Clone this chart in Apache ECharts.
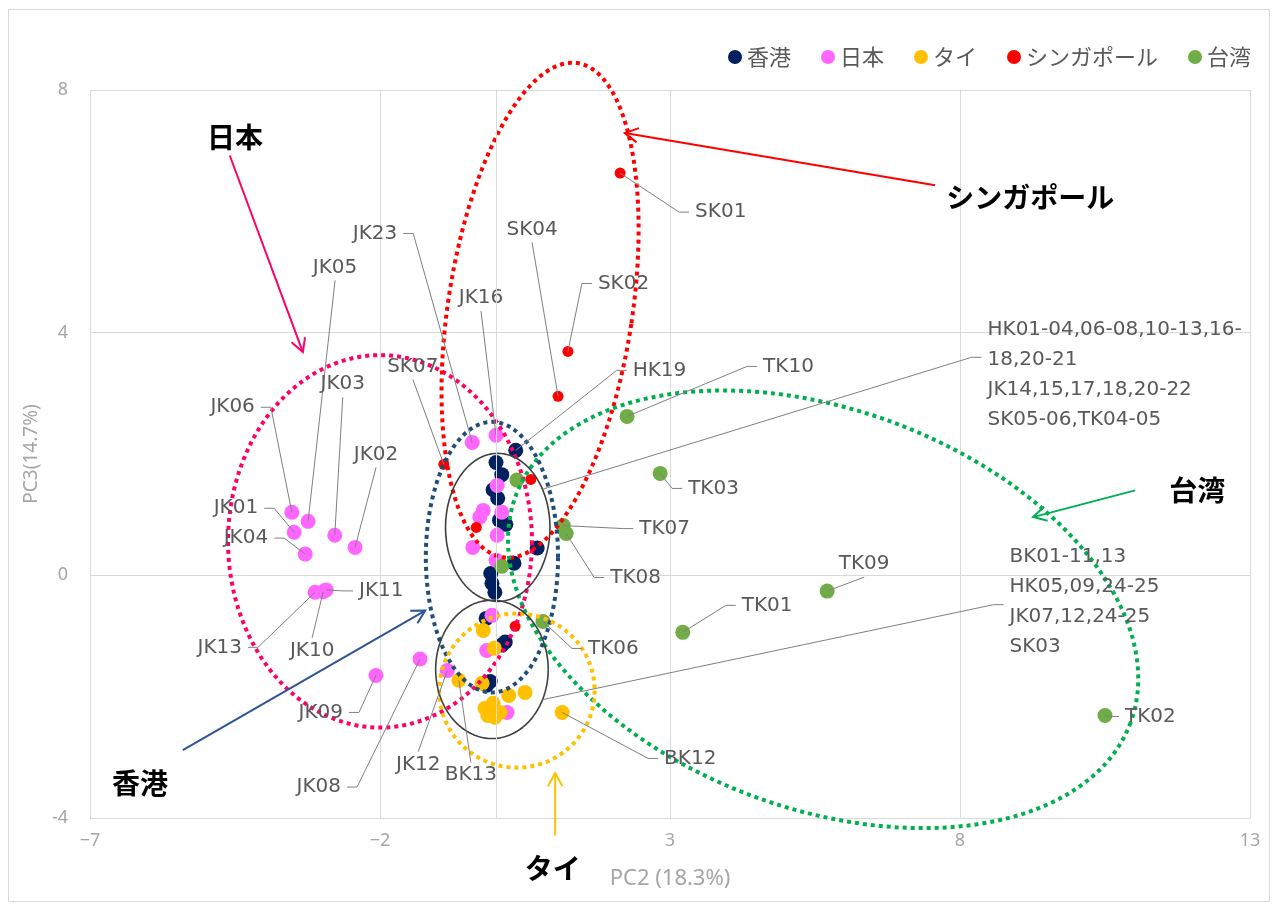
<!DOCTYPE html>
<html>
<head>
<meta charset="utf-8">
<script src="https://cdn.jsdelivr.net/npm/echarts@6/dist/echarts.min.js"></script>
<style>
  html, body { margin: 0; padding: 0; background: #ffffff; }
  #chart { width: 1278px; height: 909px; }
</style>
</head>
<body>
<div id="chart"></div>
<script>
// PCA scores per sample: [sample id, PC2, PC3]; unlabeled samples have an empty id
const hongKong = [
  ['HK19', 0.34, 2.06], ['', 0.00, 1.86], ['', 0.10, 1.66], ['', -0.05, 1.41],
  ['', 0.03, 1.27], ['', 0.06, 0.91], ['', 0.17, 0.84], ['', 0.71, 0.45],
  ['', 0.31, 0.20], ['', -0.09, 0.03], ['', -0.07, -0.13], ['', -0.02, -0.28],
  ['', -0.17, -0.71], ['', 0.16, -1.10], ['', 0.10, -1.15], ['', -0.16, -1.81],
  ['', -0.10, -1.75]
];
const japan = [
  ['JK06', -3.52, 1.04], ['JK05', -3.24, 0.89], ['JK01', -3.48, 0.71], ['JK03', -2.78, 0.66],
  ['JK02', -2.43, 0.46], ['JK04', -3.29, 0.35], ['JK13', -3.12, -0.28], ['JK10', -2.98, -0.27],
  ['JK11', -2.93, -0.24], ['JK09', -2.07, -1.65], ['JK08', -1.31, -1.38], ['JK12', -0.84, -1.57],
  ['JK23', -0.41, 2.19], ['JK16', 0.00, 2.31], ['', 0.02, 1.48], ['', -0.22, 1.07],
  ['', -0.28, 0.96], ['', 0.10, 1.04], ['', 0.02, 0.66], ['', -0.40, 0.46],
  ['', 0.00, 0.25], ['', -0.07, -0.66], ['', -0.16, -1.24], ['', 0.19, -2.26]
];
const thailand = [
  ['', -0.22, -0.91], ['', -0.03, -1.20], ['BK13', -0.64, -1.73], ['', -0.24, -1.78],
  ['', 0.22, -1.98], ['', 0.50, -1.93], ['', -0.19, -2.19], ['', -0.05, -2.11],
  ['', 0.07, -2.26], ['', -0.14, -2.31], ['', -0.02, -2.34], ['BK12', 1.14, -2.26]
];
const singapore = [
  ['SK01', 2.14, 6.63], ['SK02', 1.24, 3.69], ['SK04', 1.07, 2.95], ['SK07', -0.90, 1.83],
  ['', 0.60, 1.58], ['', -0.34, 0.79], ['', 0.33, -0.84]
];
const taiwan = [
  ['TK10', 2.26, 2.62], ['TK03', 2.83, 1.68], ['TK07', 1.16, 0.82], ['TK08', 1.21, 0.69],
  ['TK09', 5.71, -0.26], ['TK01', 3.22, -0.94], ['TK02', 10.50, -2.31], ['TK06', 0.81, -0.76],
  ['', 0.36, 1.57], ['', 0.10, 0.15]
];

const regionNames = ['香港', '日本', 'タイ', 'シンガポール', '台湾'];
const regionData = [hongKong, japan, thailand, singapore, taiwan];
const regionColors = ['#002060', '#FF66FF', '#FFC000', '#FF0000', '#70AD47'];
const regionSizes = [15, 15, 15, 11, 15];

// Group outlines: centre (PC2, PC3), semi-axes in axis units, clockwise tilt in degrees
const outlines = [
  { cx: -2.00, cy: 0.56, rx: 2.62, ry: 3.07, rot: 0, color: '#FF0066', dotted: true },
  { cx: 0.76, cy: 4.37, rx: 1.59, ry: 4.12, rot: 8.6, color: '#FF0000', dotted: true },
  { cx: 5.64, cy: -0.56, rx: 5.65, ry: 3.29, rot: 20.2, color: '#00B050', dotted: true },
  { cx: -0.07, cy: 0.30, rx: 1.14, ry: 2.23, rot: 0, color: '#1F4E79', dotted: true },
  { cx: 0.36, cy: -1.90, rx: 1.34, ry: 1.27, rot: 0, color: '#FFC000', dotted: true },
  { cx: 0.03, cy: 0.79, rx: 0.90, ry: 1.22, rot: 0, color: '#404040', dotted: false },
  { cx: -0.07, cy: -1.55, rx: 0.97, ry: 1.14, rot: 0, color: '#404040', dotted: false }
];

// Region call-outs: label position and arrow in axis units
const regionArrows = [
  { label: '日本', color: '#FF0066', at: [-4.50, 7.22], from: [-4.59, 6.92], to: [-3.33, 3.68] },
  { label: 'シンガポール', color: '#FF0000', at: [9.21, 6.23], from: [7.57, 6.43], to: [2.22, 7.29] },
  { label: '台湾', color: '#00B050', at: [12.09, 1.40], from: [11.02, 1.40], to: [9.26, 0.96] },
  { label: '香港', color: '#2F5597', at: [-6.14, -3.43], from: [-5.40, -2.88], to: [-1.22, -0.58] },
  { label: 'タイ', color: '#FFC000', at: [0.98, -4.83], from: [1.02, -4.29], to: [1.02, -3.26] }
];

// Sample label placement: pixel offset of the text anchor from the point, and the side the leader meets
const labelLayout = {
  SK01: [75, 39, 'left'], SK02: [30, -68, 'left'], SK04: [-26, -157, 'bottom'], SK07: [-31, -88, 'bottom'],
  JK23: [-75, -209, 'right'], JK16: [-15, -127, 'bottom'], HK19: [117, -80, 'left'],
  TK10: [136, -50, 'left'], TK03: [28, 15, 'left'], TK07: [76, 3, 'left'], TK08: [44, 44, 'left'],
  TK09: [37, -17, 'bottom'], TK01: [59, -27, 'left'], TK02: [20, 1, 'left'], TK06: [45, 27, 'left'],
  BK12: [102, 46, 'left'], BK13: [12, 85, 'top'], JK12: [-29, 84, 'top'], JK08: [-79, 128, 'right'],
  JK09: [-33, 37, 'right'], JK13: [-73, 55, 'right'], JK10: [-11, 49, 'top'], JK11: [33, 1, 'left'],
  JK04: [-37, -16, 'right'], JK01: [-36, -24, 'right'], JK06: [-37, -105, 'right'],
  JK05: [27, -244, 'bottom'], JK03: [8, -141, 'bottom'], JK02: [21, -83, 'bottom']
};

// Cluster notes attached to the two solid outlines (outline index, angle on the outline)
const clusterNotes = [
  { text: 'HK01-04,06-08,10-13,16-\n18,20-21\nJK14,15,17,18,20-22\nSK05-06,TK04-05',
    outline: 5, angle: -31, dx: 445, dy: -114, attachDy: -18 },
  { text: 'BK01-11,13\nHK05,09,24-25\nJK07,12,24-25\nSK03',
    outline: 6, angle: 26, dx: 467, dy: -98, attachDy: 3 }
];

const LABEL_FONT = 'DejaVu Sans';
const LABEL_COLOR = '#595959';
const LEADER_COLOR = '#808080';

function outlinePixels(api, o, angleDeg) {
  const c = api.coord([o.cx, o.cy]);
  const rx = api.size([o.rx, 0])[0];
  const ry = api.size([0, o.ry])[1];
  const th = o.rot * Math.PI / 180;
  const at = (t) => {
    const lx = rx * Math.cos(t), ly = ry * Math.sin(t);
    return [c[0] + lx * Math.cos(th) - ly * Math.sin(th), c[1] + lx * Math.sin(th) + ly * Math.cos(th)];
  };
  if (angleDeg !== undefined) return at(angleDeg * Math.PI / 180);
  const pts = [];
  for (let i = 0; i <= 180; i++) pts.push(at(i / 180 * Math.PI * 2));
  return pts;
}

// Sample call-out entries built from the labelled points
const calloutItems = [];
regionData.forEach((list) => {
  list.forEach(([id, x, y]) => {
    if (id && labelLayout[id]) calloutItems.push({ id, value: [x, y] });
  });
});

function leader(p, ax, ay, side) {
  if (side === 'left') return [p, [ax - 16, ay], [ax - 6, ay]];
  if (side === 'right') return [p, [ax + 16, ay], [ax + 6, ay]];
  if (side === 'bottom') return [p, [ax, ay + 3]];
  return [p, [ax, ay - 3]];
}

const textAlignFor = { left: ['left', 'middle'], right: ['right', 'middle'], bottom: ['center', 'bottom'], top: ['center', 'top'] };

const series = regionNames.map((name, i) => ({
  name,
  type: 'scatter',
  z: 2,
  symbol: 'circle',
  symbolSize: regionSizes[i],
  itemStyle: { color: regionColors[i], opacity: 1 },
  data: regionData[i].map(([id, x, y]) => ({ name: id, value: [x, y] }))
}));

// vertical axis line through PC2 = 0
series.push({
  name: 'axis-zero', type: 'scatter', z: 1, silent: true, data: [],
  markLine: {
    silent: true, symbol: 'none', label: { show: false },
    lineStyle: { color: '#d9d9d9', type: 'solid', width: 1 },
    data: [{ xAxis: 0 }]
  }
});

series.push({
  name: 'outlines', type: 'custom', z: 3, silent: true, clip: false,
  data: outlines.map(o => [o.cx, o.cy]),
  renderItem(params, api) {
    const o = outlines[params.dataIndex];
    return {
      type: 'polyline',
      shape: { points: outlinePixels(api, o) },
      style: o.dotted
        ? { stroke: o.color, lineWidth: 4, lineDash: [4, 4], fill: null }
        : { stroke: o.color, lineWidth: 1.6, fill: null }
    };
  }
});

series.push({
  name: 'sample-labels', type: 'custom', z: 4, silent: true, clip: false,
  data: calloutItems.map(c => c.value),
  renderItem(params, api) {
    const item = calloutItems[params.dataIndex];
    const [dx, dy, side] = labelLayout[item.id];
    const p = api.coord([api.value(0), api.value(1)]);
    const ax = p[0] + dx, ay = p[1] + dy;
    const [align, vAlign] = textAlignFor[side];
    return {
      type: 'group',
      children: [
        { type: 'polyline', shape: { points: leader(p, ax, ay, side) },
          style: { stroke: LEADER_COLOR, lineWidth: 1, fill: null } },
        { type: 'text', x: ax, y: ay,
          style: { text: item.id, fill: LABEL_COLOR, fontSize: 20, fontFamily: LABEL_FONT,
                   align, verticalAlign: vAlign } }
      ]
    };
  }
});

series.push({
  name: 'cluster-notes', type: 'custom', z: 4, silent: true, clip: false,
  data: clusterNotes.map(n => [outlines[n.outline].cx, outlines[n.outline].cy]),
  renderItem(params, api) {
    const n = clusterNotes[params.dataIndex];
    const p = outlinePixels(api, outlines[n.outline], n.angle);
    const ax = p[0] + n.dx, ay = p[1] + n.dy;
    const ly = ay + n.attachDy;
    return {
      type: 'group',
      children: [
        { type: 'polyline', shape: { points: [p, [ax - 16, ly], [ax - 6, ly]] },
          style: { stroke: LEADER_COLOR, lineWidth: 1, fill: null } },
        { type: 'text', x: ax, y: ay,
          style: { text: n.text, fill: LABEL_COLOR, fontSize: 20, fontFamily: LABEL_FONT,
                   lineHeight: 30, align: 'left', verticalAlign: 'middle' } }
      ]
    };
  }
});

series.push({
  name: 'region-arrows', type: 'custom', z: 4, silent: true, clip: false,
  data: regionArrows.map(a => a.from),
  renderItem(params, api) {
    const a = regionArrows[params.dataIndex];
    const s = api.coord(a.from), e = api.coord(a.to), t = api.coord(a.at);
    const ang = Math.atan2(e[1] - s[1], e[0] - s[0]);
    const L = 15, W = 0.5;
    const h1 = [e[0] - L * Math.cos(ang - W), e[1] - L * Math.sin(ang - W)];
    const h2 = [e[0] - L * Math.cos(ang + W), e[1] - L * Math.sin(ang + W)];
    return {
      type: 'group',
      children: [
        { type: 'line', shape: { x1: s[0], y1: s[1], x2: e[0], y2: e[1] },
          style: { stroke: a.color, lineWidth: 2 } },
        { type: 'polyline', shape: { points: [h1, e, h2] },
          style: { stroke: a.color, lineWidth: 2, fill: null } },
        { type: 'text', x: t[0], y: t[1],
          style: { text: a.label, fill: '#000000', fontSize: 28, fontWeight: 'bold',
                   fontFamily: 'Noto Sans CJK JP', align: 'center', verticalAlign: 'middle' } }
      ]
    };
  }
});

const chart = echarts.init(document.getElementById('chart'), null, { renderer: 'canvas' });
chart.setOption({
  animation: false,
  backgroundColor: '#ffffff',
  textStyle: { fontFamily: 'Noto Sans' },
  graphic: [{
    type: 'rect', silent: true, z: -1,
    shape: { x: 8.5, y: 9.5, width: 1261, height: 892 },
    style: { fill: null, stroke: '#d9d9d9', lineWidth: 1 }
  }],
  legend: {
    data: regionNames,
    right: 22, top: 41,
    icon: 'circle', itemWidth: 14, itemHeight: 14, itemGap: 30,
    textStyle: { fontSize: 22, color: '#595959', fontFamily: 'Noto Sans CJK JP' }
  },
  grid: { left: 90, right: 28, top: 90, bottom: 91, containLabel: false },
  xAxis: {
    type: 'value', min: -7, max: 13, interval: 5,
    axisLine: { show: false }, axisTick: { show: false },
    splitLine: { show: true, lineStyle: { color: '#d9d9d9', width: 1 } },
    axisLabel: { color: '#a6a6a6', fontSize: 18, margin: 14,
                 formatter: v => String(v).replace('-', '\u2212') },
    name: 'PC2 (18.3%)', nameLocation: 'middle', nameGap: 50,
    nameTextStyle: { color: '#a6a6a6', fontSize: 22 }
  },
  yAxis: {
    type: 'value', min: -4, max: 8, interval: 4,
    axisLine: { show: false }, axisTick: { show: false },
    splitLine: { show: true, lineStyle: { color: '#d9d9d9', width: 1 } },
    axisLabel: { color: '#a6a6a6', fontSize: 18, margin: 22 },
    name: 'PC3(14.7%)', nameLocation: 'middle', nameGap: 48,
    nameTextStyle: { color: '#a6a6a6', fontSize: 19 }
  },
  series
});
</script>
</body>
</html>
